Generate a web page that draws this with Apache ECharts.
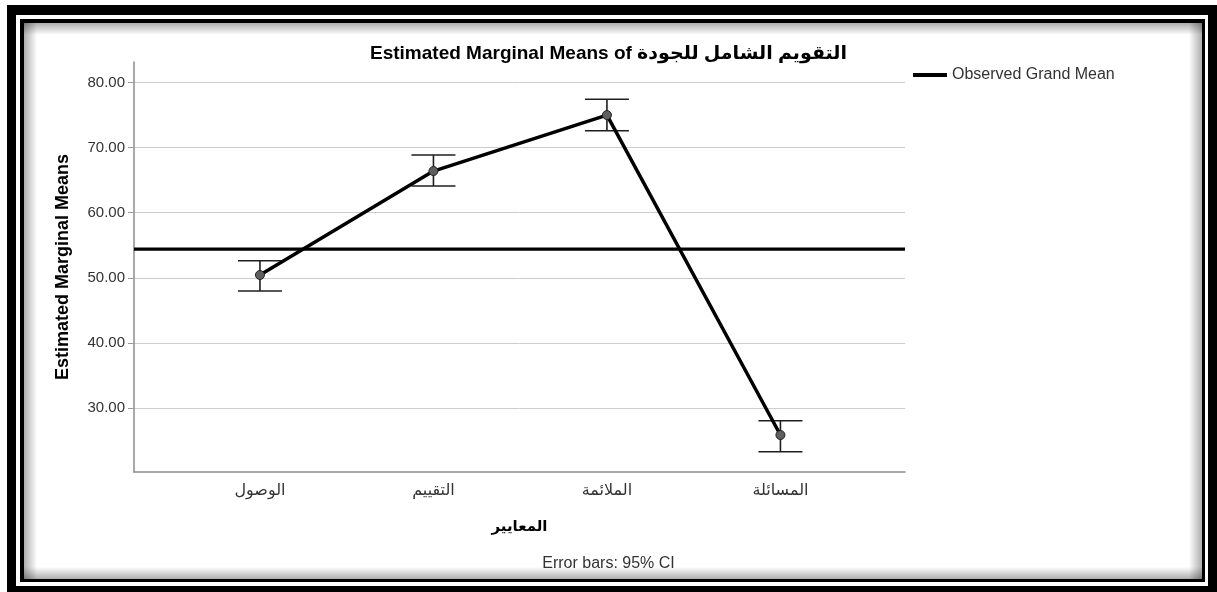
<!DOCTYPE html>
<html>
<head>
<meta charset="utf-8">
<script src="https://cdn.jsdelivr.net/npm/echarts@6/dist/echarts.min.js"></script>
<style>
  html, body { margin: 0; padding: 0; background: #fff; }
  #chart { width: 1217px; height: 592px; }
</style>
</head>
<body>
<div id="chart"></div>
<script>
// ---- data ----
const categories = ['الوصول', 'التقييم', 'الملائمة', 'المسائلة'];
const means = [50.43, 66.40, 75.00, 25.85];
const ciLower = [47.97, 64.10, 72.60, 23.29];
const ciUpper = [52.63, 68.86, 77.42, 28.05];
const grandMean = 54.42;
const yTicks = [30, 40, 50, 60, 70, 80];
const yRange = [20.17, 83.15];
const xRange = [-0.726, 3.718];

const titleText = 'Estimated Marginal Means of التقويم الشامل للجودة';
const yName = 'Estimated Marginal Means';
const xName = 'المعايير';
const legendName = 'Observed Grand Mean';
const footerText = 'Error bars: 95% CI';

// ---- build ----
const FONT = "'Liberation Sans', Arial, 'DejaVu Sans', sans-serif";
const lineData = means.map((m, i) => [i, m]);
const barData = means.map((m, i) => [i, ciLower[i], ciUpper[i]]);

function shadeRect(x, y, w, h, horizontal, reverse) {
  const dark = 'rgba(0,0,0,0.32)', clear = 'rgba(0,0,0,0)';
  const stops = reverse
    ? [{ offset: 0, color: clear }, { offset: 1, color: dark }]
    : [{ offset: 0, color: dark }, { offset: 1, color: clear }];
  return {
    type: 'rect', z: -5, silent: true,
    shape: { x: x, y: y, width: w, height: h },
    style: {
      fill: new echarts.graphic.LinearGradient(0, 0, horizontal ? 1 : 0, horizontal ? 0 : 1, stops)
    }
  };
}

const chart = echarts.init(document.getElementById('chart'), null, { renderer: 'canvas' });
chart.setOption({
  animation: false,
  backgroundColor: '#fff',
  textStyle: { fontFamily: FONT },
  graphic: [
    { type: 'rect', z: -10, silent: true, shape: { x: 7, y: 5, width: 1210, height: 587 }, style: { fill: '#000' } },
    { type: 'rect', z: -9, silent: true, shape: { x: 16, y: 15, width: 1192, height: 571 }, style: { fill: '#fff' } },
    { type: 'rect', z: -8, silent: true, shape: { x: 20, y: 19, width: 1185, height: 563 }, style: { fill: '#000' } },
    { type: 'rect', z: -7, silent: true, shape: { x: 24, y: 23, width: 1178, height: 556 }, style: { fill: '#fff' } },
    shadeRect(24, 23, 13, 556, true, false),
    shadeRect(1189, 23, 13, 556, true, true),
    shadeRect(24, 23, 1178, 12, false, false),
    shadeRect(24, 567, 1178, 12, false, true)
  ],
  title: [
    {
      text: titleText, left: 'center', top: 39,
      textStyle: { fontFamily: FONT, fontSize: 19, fontWeight: 'bold', color: '#000' }
    },
    {
      text: footerText, left: 'center', top: 551,
      textStyle: { fontFamily: FONT, fontSize: 16, fontWeight: 'normal', color: '#333' }
    }
  ],
  legend: {
    data: [legendName],
    left: 908, top: 62,
    icon: 'rect', itemWidth: 34, itemHeight: 4, itemGap: 6,
    textStyle: { fontFamily: FONT, fontSize: 16, color: '#333' }
  },
  grid: { left: 134, right: 312, top: 62, bottom: 120, containLabel: false },
  xAxis: {
    type: 'value', min: xRange[0], max: xRange[1],
    name: xName, nameLocation: 'middle', nameGap: 47,
    nameTextStyle: { fontFamily: FONT, fontSize: 15, fontWeight: 'bold', color: '#000' },
    axisLine: { show: true, onZero: false, lineStyle: { color: '#8c8c8c', width: 1.5 } },
    axisTick: { show: false },
    splitLine: { show: false },
    axisLabel: {
      customValues: [0, 1, 2, 3], margin: 11,
      formatter: v => categories[Math.round(v)] || '',
      fontFamily: FONT, fontSize: 16, color: '#333'
    }
  },
  yAxis: {
    type: 'value', min: yRange[0], max: yRange[1],
    name: yName, nameLocation: 'middle', nameGap: 62, nameRotate: 90,
    nameTextStyle: { fontFamily: FONT, fontSize: 18, fontWeight: 'bold', color: '#000' },
    axisLine: { show: true, onZero: false, lineStyle: { color: '#8c8c8c', width: 1.5 } },
    axisTick: { show: true, customValues: yTicks, length: 6, lineStyle: { color: '#9a9a9a' } },
    splitLine: { show: true, lineStyle: { color: '#cdcdcd', width: 1 } },
    axisLabel: {
      customValues: yTicks, margin: 9,
      formatter: v => v.toFixed(2),
      fontFamily: FONT, fontSize: 15, color: '#333'
    }
  },
  series: [
    {
      name: legendName, type: 'line', z: 2,
      data: [[xRange[0], grandMean], [xRange[1], grandMean]],
      showSymbol: false, symbol: 'none',
      lineStyle: { color: '#000', width: 3.2 },
      itemStyle: { color: '#000' }
    },
    {
      name: 'ci', type: 'custom', z: 3,
      data: barData,
      renderItem: function (params, api) {
        const x = api.value(0);
        const lo = api.coord([x, api.value(1)]);
        const hi = api.coord([x, api.value(2)]);
        const hw = 22;
        const st = { stroke: '#1e1e1e', lineWidth: 1.6, fill: null };
        return {
          type: 'group',
          children: [
            { type: 'line', shape: { x1: lo[0], y1: lo[1], x2: hi[0], y2: hi[1] }, style: st },
            { type: 'line', shape: { x1: lo[0] - hw, y1: lo[1], x2: lo[0] + hw, y2: lo[1] }, style: st },
            { type: 'line', shape: { x1: hi[0] - hw, y1: hi[1], x2: hi[0] + hw, y2: hi[1] }, style: st }
          ]
        };
      }
    },
    {
      name: 'means', type: 'line', z: 4,
      data: lineData,
      symbol: 'circle', symbolSize: 9, showSymbol: true,
      lineStyle: { color: '#000', width: 3.5 },
      itemStyle: { color: '#5e5e5e', borderColor: '#222', borderWidth: 1 }
    }
  ]
});
</script>
</body>
</html>
